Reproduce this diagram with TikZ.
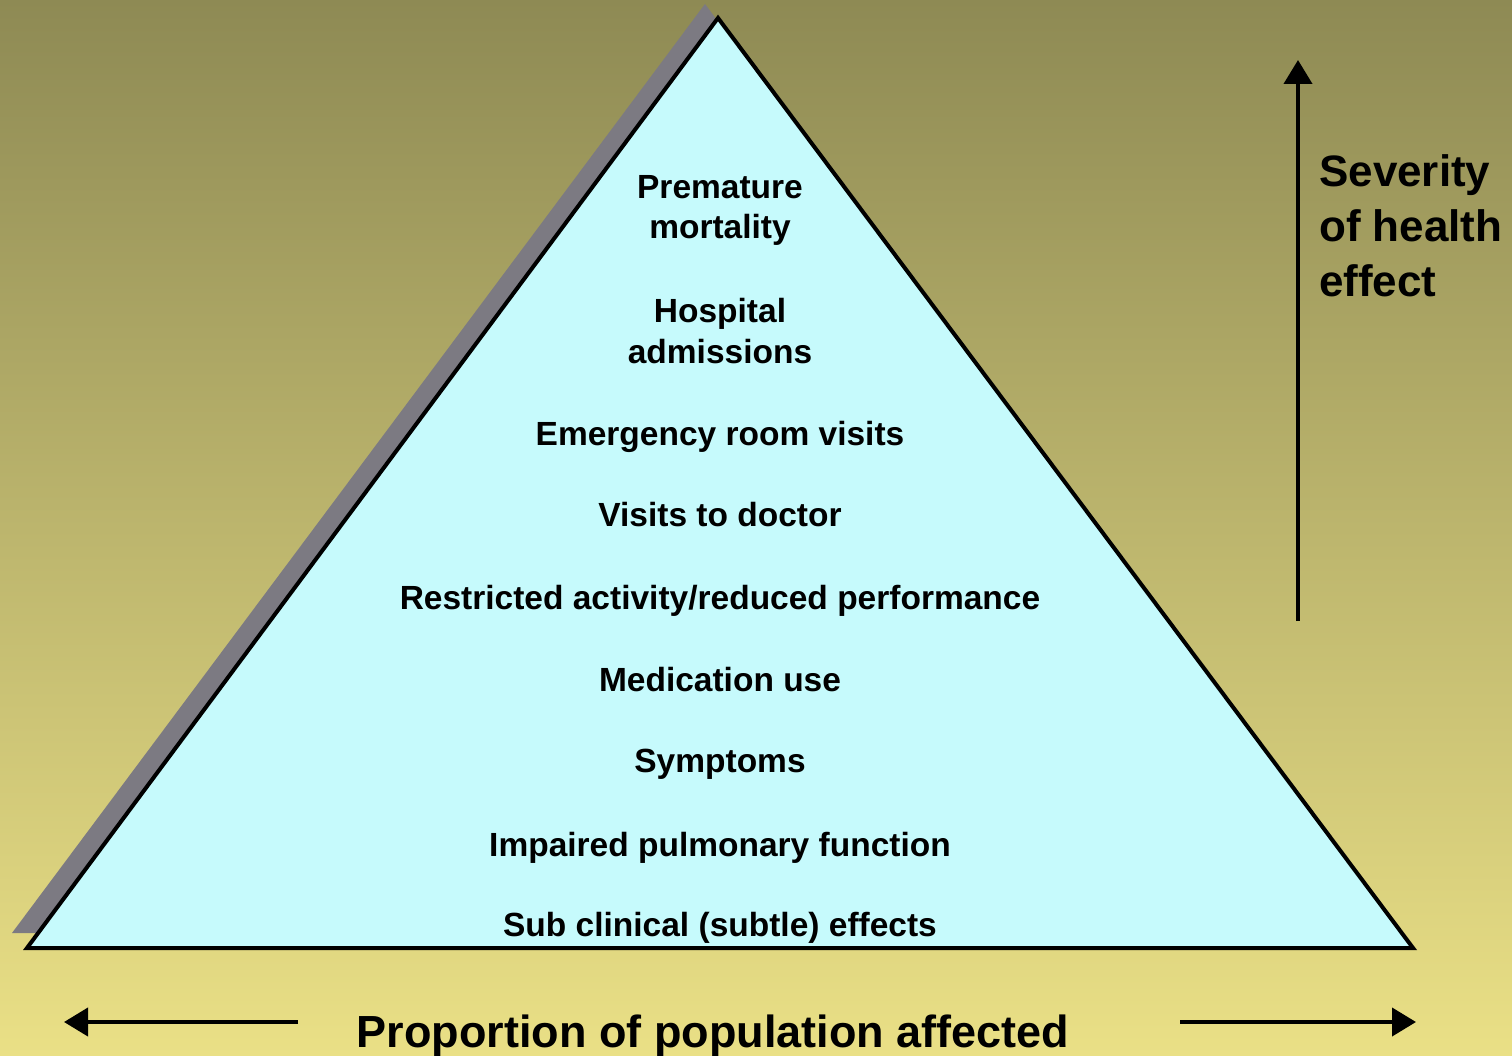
\documentclass[tikz,border=0pt]{standalone}
\usepackage{fontspec}
\setmainfont{Liberation Sans}
\usetikzlibrary{arrows.meta}
\definecolor{bgtop}{RGB}{142,138,84}
\definecolor{bgbot}{RGB}{234,224,134}
\definecolor{pyrfill}{RGB}{198,250,252}
\definecolor{shadowgray}{RGB}{124,122,130}
\tikzset{
  level/.style={anchor=base, align=center, font=\bfseries\fontsize{33.5}{40}\selectfont, inner sep=0pt},
  side/.style={anchor=base west, align=left, font=\bfseries\fontsize{44}{55}\selectfont, inner sep=0pt},
  bottomlabel/.style={anchor=base, font=\bfseries\fontsize{45}{54}\selectfont, inner sep=0pt},
  axis/.style={line width=4pt, -{Triangle[length=24pt,width=28pt]}},
  pyr/.style={line width=4pt, line join=miter, fill=pyrfill}
}
\begin{document}
\begin{tikzpicture}[x=1pt,y=-1pt]
\useasboundingbox (0,0) rectangle (1512,1056);
\shade[top color=bgtop, bottom color=bgbot] (0,0) rectangle (1512,1056);
% shadow
\fill[shadowgray] (705,4) -- (12,933) -- (1400,933) -- cycle;
% pyramid
\coordinate (apex) at (718,18);
\coordinate (bl) at (27,948);
\coordinate (br) at (1413,948);
\draw[pyr] (apex) -- (bl) -- (br) -- cycle;
% levels
\node[level] (l1) at (720,239) {Premature\\mortality};
\node[level] (l2) at (720,363) {Hospital\\admissions};
\node[level] (l3) at (720,445) {Emergency room visits};
\node[level] (l4) at (720,526) {Visits to doctor};
\node[level] (l5) at (720,609) {Restricted activity/reduced performance};
\node[level] (l6) at (720,691) {Medication use};
\node[level] (l7) at (720,772) {Symptoms};
\node[level] (l8) at (720,856) {Impaired pulmonary function};
\node[level] (l9) at (720,936) {Sub clinical (subtle) effects};
% severity axis
\coordinate (sevlow) at (1298,621);
\coordinate (sevhigh) at (1298,60);
\draw[axis] (sevlow) -- (sevhigh);
\node[side] (sev) at (1319,297) {Severity\\of health\\effect};
% population axis
\node[bottomlabel] (pop) at (713,1047) {Proportion of population affected};
\coordinate (popl1) at (298,1022);
\coordinate (popl2) at (64,1022);
\coordinate (popr1) at (1180,1022);
\coordinate (popr2) at (1416,1022);
\draw[axis] (popl1) -- (popl2);
\draw[axis] (popr1) -- (popr2);
\end{tikzpicture}
\end{document}
